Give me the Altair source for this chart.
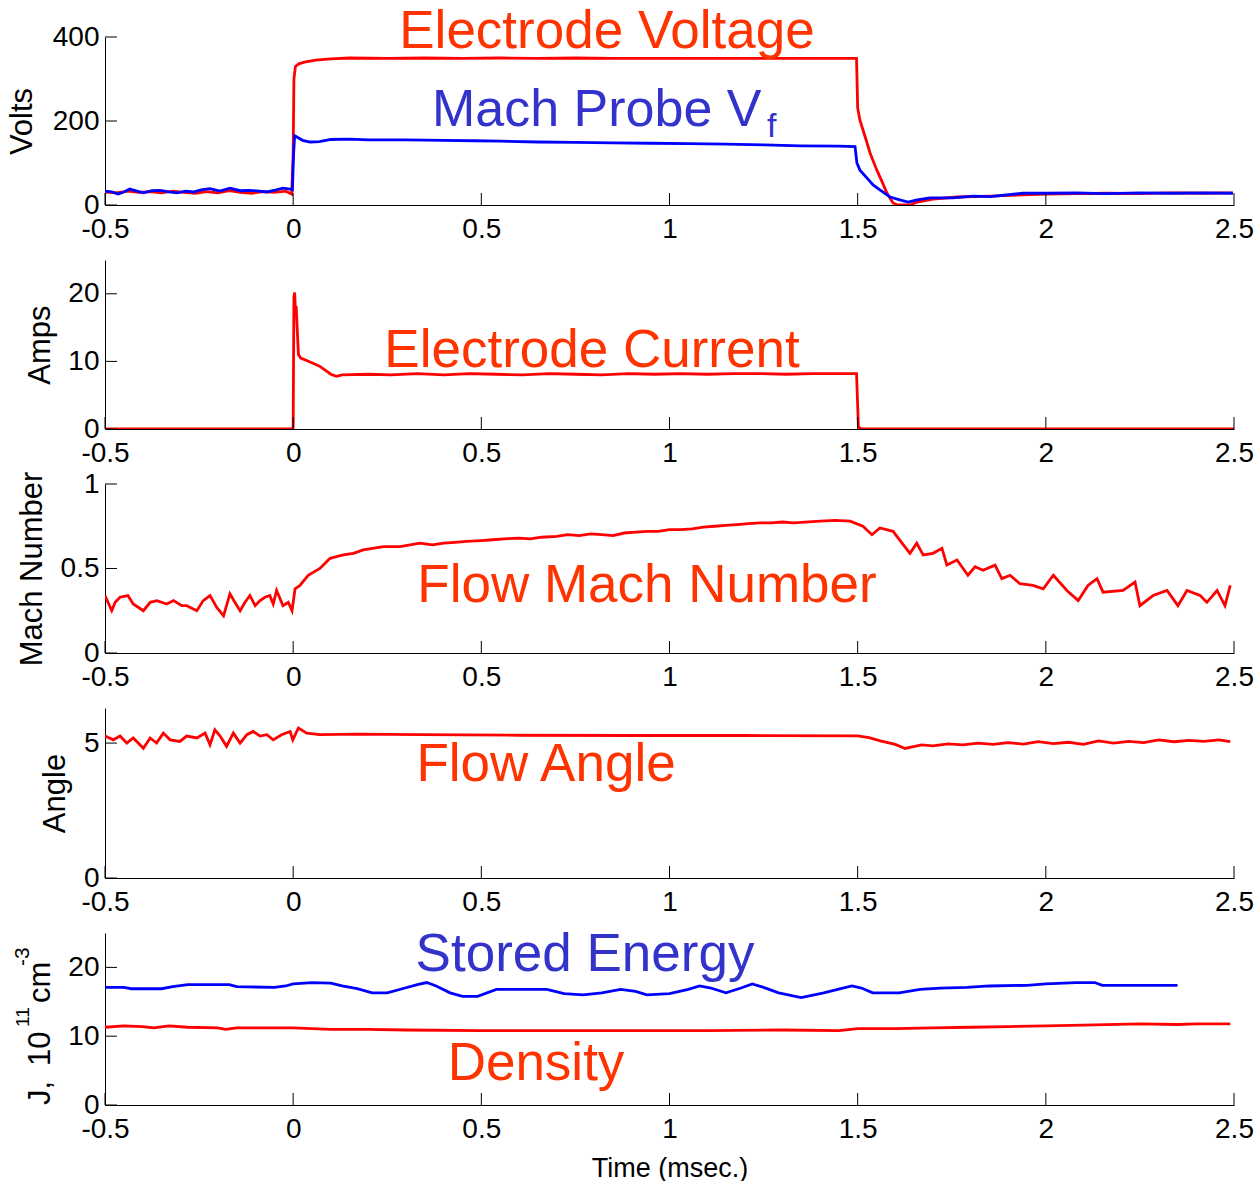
import altair as alt
import pandas as pd

FONT = "Liberation Sans"
LINE_RED = "#ff0000"
LINE_BLUE = "#0000ff"
TEXT_RED = "#ff3300"
TEXT_BLUE = "#3333cc"

W = 1129          # plot width of every panel
TICK_LEN = 12     # inward tick length
LABEL_SIZE = 28
TITLE_SIZE = 31

TIME_DOMAIN = [-0.5, 2.5]
TIME_TICKS = [-0.5, 0, 0.5, 1, 1.5, 2, 2.5]

# ---- Panel 1: electrode voltage and Mach probe floating potential (V)
ELECTRODE_VOLTAGE = [
    (-0.500, 31), (-0.470, 29), (-0.440, 33), (-0.410, 30), (-0.380, 32), (-0.350, 29),
    (-0.320, 33), (-0.290, 30), (-0.260, 28), (-0.230, 32), (-0.200, 29), (-0.170, 34),
    (-0.140, 30), (-0.110, 28), (-0.080, 32), (-0.050, 30), (-0.020, 33), (-0.004, 26),
    (0.000, 120), (0.002, 300), (0.006, 330), (0.015, 336), (0.030, 340), (0.060, 345),
    (0.100, 348), (0.150, 350), (0.250, 349), (0.350, 350), (0.450, 349), (0.550, 350),
    (0.650, 349), (0.750, 350), (0.850, 349), (0.950, 349), (1.050, 349), (1.150, 349),
    (1.250, 349), (1.350, 349), (1.450, 349), (1.497, 349), (1.500, 231), (1.506, 202),
    (1.520, 162), (1.533, 124), (1.551, 83), (1.565, 55), (1.578, 28), (1.594, 5),
    (1.605, 0), (1.639, 0), (1.658, 7), (1.700, 14), (1.764, 19), (1.852, 21),
    (1.939, 24), (2.003, 26), (2.080, 27), (2.163, 28), (2.250, 27), (2.330, 29),
    (2.420, 28), (2.497, 29),
]
PROBE_VF = [
    (-0.500, 33), (-0.482, 31), (-0.465, 26), (-0.450, 31), (-0.434, 38), (-0.415, 33),
    (-0.398, 29), (-0.375, 34), (-0.354, 35), (-0.330, 31), (-0.309, 29), (-0.285, 33),
    (-0.265, 31), (-0.245, 36), (-0.221, 39), (-0.195, 33), (-0.168, 40), (-0.140, 34),
    (-0.115, 35), (-0.090, 33), (-0.070, 31), (-0.045, 36), (-0.027, 40), (-0.008, 38),
    (-0.002, 36), (0.001, 120), (0.004, 165), (0.010, 162), (0.025, 154), (0.045, 150),
    (0.070, 151), (0.100, 156), (0.150, 157), (0.200, 155), (0.300, 155), (0.400, 154),
    (0.480, 153), (0.550, 152), (0.650, 150), (0.750, 149), (0.850, 148), (0.950, 147),
    (1.050, 146), (1.150, 145), (1.250, 143), (1.350, 141), (1.450, 140), (1.493, 139),
    (1.498, 100), (1.506, 83), (1.525, 64), (1.541, 48), (1.559, 36), (1.586, 19),
    (1.612, 12), (1.634, 7), (1.658, 12), (1.692, 17), (1.753, 17), (1.807, 21),
    (1.852, 20), (1.939, 28), (2.003, 28), (2.080, 29), (2.160, 27), (2.250, 29),
    (2.330, 28), (2.420, 29), (2.497, 28),
]

# ---- Panel 2: electrode current (A)
ELECTRODE_CURRENT = [
    (-0.500, 0), (-0.200, 0), (-0.002, 0), (0.000, 0.2), (0.002, 19.5), (0.004, 20.2),
    (0.006, 17.5), (0.008, 18.2), (0.011, 14.5), (0.014, 11.0), (0.020, 10.5),
    (0.045, 9.9), (0.070, 9.3), (0.085, 8.7), (0.100, 8.1), (0.115, 7.8), (0.130, 8.0),
    (0.200, 8.1), (0.260, 8.0), (0.330, 8.2), (0.400, 8.0), (0.470, 8.2), (0.540, 8.1),
    (0.610, 8.0), (0.680, 8.2), (0.750, 8.1), (0.820, 8.0), (0.890, 8.2), (0.960, 8.1),
    (1.030, 8.2), (1.100, 8.1), (1.170, 8.2), (1.240, 8.2), (1.310, 8.1), (1.380, 8.2),
    (1.450, 8.2), (1.497, 8.2), (1.502, 0.3), (1.510, 0), (2.500, 0),
]

# ---- Panel 3: flow Mach number
MACH = [
    (-0.500, 0.34), (-0.482, 0.25), (-0.473, 0.30), (-0.460, 0.33), (-0.439, 0.34),
    (-0.425, 0.29), (-0.398, 0.25), (-0.380, 0.30), (-0.362, 0.31), (-0.336, 0.29),
    (-0.318, 0.31), (-0.296, 0.28), (-0.283, 0.28), (-0.256, 0.25), (-0.239, 0.31),
    (-0.221, 0.34), (-0.203, 0.27), (-0.185, 0.22), (-0.168, 0.35), (-0.155, 0.30),
    (-0.141, 0.25), (-0.128, 0.30), (-0.115, 0.34), (-0.101, 0.28), (-0.088, 0.31),
    (-0.075, 0.33), (-0.062, 0.34), (-0.053, 0.29), (-0.044, 0.37), (-0.027, 0.28),
    (-0.013, 0.30), (-0.003, 0.25), (0.005, 0.38), (0.018, 0.40), (0.040, 0.46),
    (0.071, 0.50), (0.098, 0.56), (0.133, 0.58), (0.160, 0.59), (0.186, 0.61),
    (0.240, 0.63), (0.284, 0.63), (0.337, 0.65), (0.370, 0.64), (0.400, 0.65),
    (0.430, 0.655), (0.460, 0.66), (0.500, 0.665), (0.530, 0.67), (0.560, 0.675),
    (0.600, 0.68), (0.630, 0.675), (0.660, 0.685), (0.700, 0.69), (0.730, 0.70),
    (0.760, 0.695), (0.790, 0.705), (0.820, 0.70), (0.850, 0.695), (0.880, 0.71),
    (0.910, 0.715), (0.940, 0.72), (0.970, 0.72), (1.000, 0.73), (1.030, 0.73),
    (1.060, 0.735), (1.090, 0.745), (1.120, 0.75), (1.150, 0.755), (1.180, 0.76),
    (1.210, 0.765), (1.240, 0.77), (1.270, 0.77), (1.300, 0.775), (1.330, 0.77),
    (1.360, 0.775), (1.400, 0.78), (1.440, 0.785), (1.480, 0.78), (1.514, 0.75),
    (1.538, 0.70), (1.559, 0.74), (1.594, 0.72), (1.618, 0.65), (1.639, 0.59),
    (1.657, 0.65), (1.674, 0.58), (1.700, 0.59), (1.724, 0.62), (1.737, 0.52),
    (1.764, 0.55), (1.793, 0.46), (1.812, 0.51), (1.833, 0.49), (1.865, 0.52),
    (1.883, 0.44), (1.905, 0.46), (1.931, 0.41), (1.966, 0.40), (1.993, 0.38),
    (2.020, 0.46), (2.056, 0.37), (2.086, 0.31), (2.112, 0.40), (2.136, 0.44),
    (2.152, 0.36), (2.205, 0.37), (2.237, 0.42), (2.250, 0.28), (2.285, 0.34),
    (2.322, 0.37), (2.351, 0.28), (2.375, 0.37), (2.410, 0.34), (2.428, 0.30),
    (2.455, 0.37), (2.476, 0.28), (2.490, 0.40),
]

# ---- Panel 4: flow angle
FLOW_ANGLE = [
    (-0.500, 5.26), (-0.478, 5.12), (-0.460, 5.26), (-0.442, 5.00), (-0.425, 5.19),
    (-0.398, 4.81), (-0.380, 5.19), (-0.363, 5.00), (-0.345, 5.37), (-0.327, 5.12),
    (-0.301, 5.06), (-0.283, 5.26), (-0.256, 5.19), (-0.234, 5.37), (-0.221, 4.94),
    (-0.208, 5.49), (-0.194, 5.26), (-0.177, 4.88), (-0.159, 5.37), (-0.141, 5.00),
    (-0.123, 5.31), (-0.106, 5.43), (-0.088, 5.26), (-0.070, 5.31), (-0.053, 5.12),
    (-0.031, 5.31), (-0.008, 5.43), (-0.001, 5.12), (0.014, 5.56), (0.036, 5.37),
    (0.071, 5.31), (0.169, 5.33), (0.337, 5.31), (0.600, 5.29), (0.900, 5.28),
    (1.200, 5.28), (1.500, 5.27), (1.530, 5.20), (1.560, 5.08), (1.600, 4.95),
    (1.626, 4.80), (1.645, 4.86), (1.670, 4.93), (1.700, 4.90), (1.740, 4.97),
    (1.780, 4.93), (1.820, 5.00), (1.860, 4.95), (1.900, 5.02), (1.940, 4.96),
    (1.980, 5.05), (2.020, 4.98), (2.060, 5.03), (2.100, 4.95), (2.140, 5.08),
    (2.180, 5.00), (2.220, 5.06), (2.260, 5.02), (2.300, 5.12), (2.340, 5.05),
    (2.380, 5.10), (2.420, 5.06), (2.460, 5.12), (2.490, 5.05),
]

# ---- Panel 5: stored energy (J) and density (1e11 cm^-3)
STORED_ENERGY = [
    (-0.500, 17.1), (-0.450, 17.1), (-0.430, 16.9), (-0.350, 16.9), (-0.320, 17.2),
    (-0.280, 17.5), (-0.170, 17.5), (-0.150, 17.2), (-0.050, 17.1), (-0.020, 17.3),
    (0.000, 17.6), (0.050, 17.8), (0.100, 17.7), (0.130, 17.3), (0.170, 16.9),
    (0.210, 16.3), (0.250, 16.3), (0.290, 16.9), (0.330, 17.5), (0.355, 17.8),
    (0.380, 17.3), (0.417, 16.3), (0.450, 15.8), (0.490, 15.8), (0.540, 16.8),
    (0.620, 16.8), (0.674, 16.8), (0.720, 16.2), (0.770, 16.0), (0.820, 16.3),
    (0.870, 16.8), (0.910, 16.5), (0.940, 16.0), (1.000, 16.2), (1.050, 16.8),
    (1.080, 17.3), (1.110, 17.0), (1.150, 16.3), (1.190, 17.0), (1.220, 17.6),
    (1.250, 17.1), (1.290, 16.3), (1.350, 15.6), (1.410, 16.3), (1.455, 16.9),
    (1.485, 17.3), (1.510, 17.0), (1.540, 16.3), (1.610, 16.3), (1.666, 16.8),
    (1.720, 17.0), (1.790, 17.1), (1.850, 17.3), (1.950, 17.4), (2.000, 17.6),
    (2.080, 17.8), (2.130, 17.8), (2.150, 17.4), (2.350, 17.4),
]
DENSITY = [
    (-0.500, 11.3), (-0.450, 11.5), (-0.400, 11.4), (-0.370, 11.2), (-0.330, 11.5),
    (-0.280, 11.3), (-0.200, 11.2), (-0.180, 11.0), (-0.150, 11.2), (0.000, 11.2),
    (0.100, 11.0), (0.200, 11.0), (0.300, 10.9), (0.500, 10.8), (0.700, 10.8),
    (0.900, 10.8), (1.100, 10.8), (1.300, 10.9), (1.450, 10.8), (1.500, 11.1),
    (1.600, 11.1), (1.700, 11.2), (1.800, 11.3), (1.900, 11.4), (2.000, 11.5),
    (2.100, 11.6), (2.250, 11.8), (2.350, 11.7), (2.400, 11.8), (2.490, 11.8),
]

MINUS_FIX = "replace(format(datum.value, '~g'), '\u2212', '-')"


def frame(pairs):
    return pd.DataFrame({"t": [p[0] for p in pairs], "v": [p[1] for p in pairs],
                         "i": list(range(len(pairs)))})


def panel(series, h, y_domain, y_ticks, y_title=None, y_title_x=0, notes=(), x_title=None):
    x_enc = alt.X(
        "t:Q",
        scale=alt.Scale(domain=TIME_DOMAIN, nice=False, zero=False),
        axis=alt.Axis(values=TIME_TICKS, ticks=False, labelExpr=MINUS_FIX,
                      labelFlush=False, labelOverlap=False, labelPadding=10,
                      labelFont=FONT, labelFontSize=LABEL_SIZE, labelColor="black",
                      domainColor="black", domainWidth=1, grid=False,
                      title=x_title, titleFont=FONT, titleFontSize=27,
                      titleFontWeight="normal", titleColor="black", titlePadding=12),
    )
    y_axis = dict(values=y_ticks, ticks=False, labelExpr=MINUS_FIX, labelOverlap=False,
                  labelPadding=6, labelFont=FONT, labelFontSize=LABEL_SIZE,
                  labelColor="black", domainColor="black", domainWidth=1, grid=False)
    if y_title:
        y_axis.update(title=y_title, titleFont=FONT, titleFontSize=TITLE_SIZE,
                      titleFontWeight="normal", titleColor="black", titleAngle=270,
                      titleAlign="center", titleBaseline="middle",
                      titleX=y_title_x, titleY=h / 2)
    else:
        y_axis.update(title=None)
    y_enc = alt.Y("v:Q", scale=alt.Scale(domain=y_domain, nice=False, zero=False),
                  axis=alt.Axis(**y_axis))

    layers = []
    for pairs, color in series:
        layers.append(
            alt.Chart(frame(pairs)).mark_line(color=color, strokeWidth=2.8, clip=True)
            .encode(x=x_enc, y=y_enc, order="i:Q")
        )
    # inward tick marks
    layers.append(
        alt.Chart(pd.DataFrame({"t": TIME_TICKS})).mark_rule(color="black", strokeWidth=1)
        .encode(x=x_enc, y=alt.value(h), y2=alt.value(h - TICK_LEN))
    )
    layers.append(
        alt.Chart(pd.DataFrame({"v": y_ticks})).mark_rule(color="black", strokeWidth=1)
        .encode(y=y_enc, x=alt.value(0), x2=alt.value(TICK_LEN))
    )
    for note in notes:
        text, px, py, size, color, align, angle = note
        layers.append(
            alt.Chart(pd.DataFrame({"label": [text]}))
            .mark_text(font=FONT, fontSize=size, color=color, align=align,
                       baseline="alphabetic", angle=angle)
            .encode(x=alt.value(px), y=alt.value(py), text="label:N")
        )
    return alt.layer(*layers).properties(width=W, height=h)


p1 = panel(
    [(ELECTRODE_VOLTAGE, LINE_RED), (PROBE_VF, LINE_BLUE)],
    168, [0, 400], [0, 200, 400], "Volts", -83,
    notes=[
        ("Electrode Voltage", 502, 11, 53, TEXT_RED, "center", 0),
        ("Mach Probe V", 327, 89, 52, TEXT_BLUE, "left", 0),
        ("f", 662, 100, 34, TEXT_BLUE, "left", 0),
    ],
)
p2 = panel(
    [(ELECTRODE_CURRENT, LINE_RED)],
    169, [0, 25], [0, 10, 20], "Amps", -65,
    notes=[("Electrode Current", 487, 107, 53, TEXT_RED, "center", 0)],
)
p3 = panel(
    [(MACH, LINE_RED)],
    169, [0, 1], [0, 0.5, 1], "Mach Number", -73,
    notes=[("Flow Mach Number", 542, 118, 53, TEXT_RED, "center", 0)],
)
p4 = panel(
    [(FLOW_ANGLE, LINE_RED)],
    170, [0, 6.3], [0, 5], "Angle", -50,
    notes=[("Flow Angle", 441, 73, 53, TEXT_RED, "center", 0)],
)
p5 = panel(
    [(STORED_ENERGY, LINE_BLUE), (DENSITY, LINE_RED)],
    172, [0, 25], [0, 10, 20], None, 0,
    notes=[
        ("Stored Energy", 480, 38, 53, TEXT_BLUE, "center", 0),
        ("Density", 431, 147, 53, TEXT_RED, "center", 0),
        # rotated axis label with superscripts: J, 10^11 cm^-3
        ("J,", -55, 172, TITLE_SIZE, "black", "left", 270),
        ("10", -55, 133, TITLE_SIZE, "black", "left", 270),
        ("11", -76, 94, 19, "black", "left", 270),
        ("cm", -55, 70, TITLE_SIZE, "black", "left", 270),
        ("-3", -76, 33, 21, "black", "left", 270),
    ],
    x_title="Time (msec.)",
)

chart = (
    alt.vconcat(p1, p2, p3, p4, p5, spacing=55, bounds="flush")
    .properties(padding={"left": 6, "top": 6, "right": 2, "bottom": 0}, background="white")
    .configure_view(stroke=None)
)

chart.save("out.html", embed_options={"renderer": "svg", "actions": False})
